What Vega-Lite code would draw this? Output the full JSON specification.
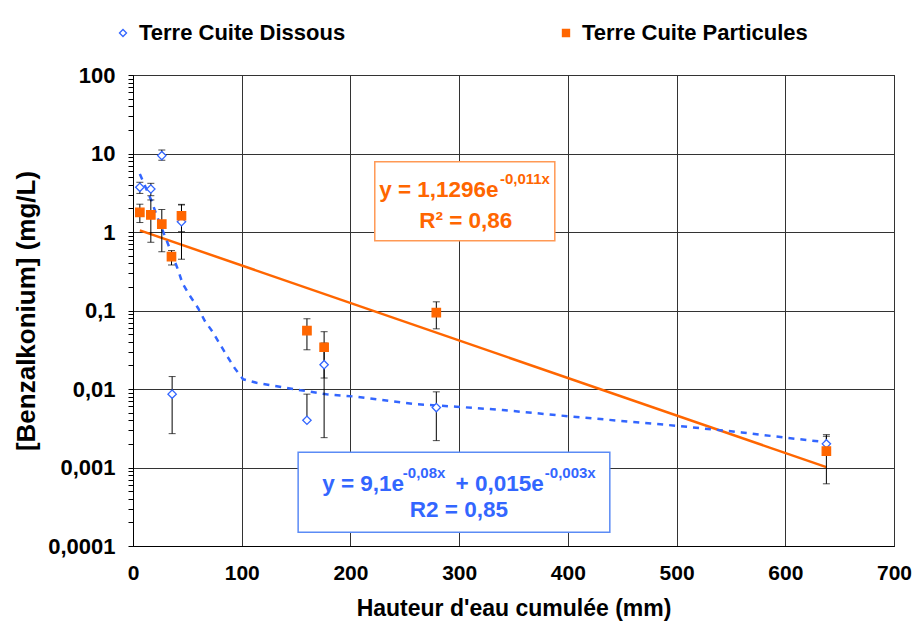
{
  "$schema": "https://vega.github.io/schema/vega-lite/v6.json",
  "width": 761,
  "height": 471,
  "autosize": {"type": "none"},
  "padding": {"left": 133, "top": 75, "right": 21, "bottom": 98},
  "background": "white",
  "config": {
    "font": "Liberation Sans",
    "view": {"stroke": "#000", "strokeWidth": 1},
    "axis": {"labelFont": "Liberation Sans", "labelFontWeight": "bold", "labelColor": "#000", "titleFont": "Liberation Sans", "titleFontWeight": "bold", "titleColor": "#000", "domainColor": "#000", "tickColor": "#000", "gridColor": "#333", "gridWidth": 1, "gridOpacity": 1},
    "legend": {"labelFont": "Liberation Sans", "labelFontSize": 22, "labelFontWeight": "bold", "labelColor": "#000", "symbolSize": 50, "symbolStrokeWidth": 1.3, "columnPadding": 209, "labelOffset": 5, "padding": 0, "labelLimit": 400}
  },
  "datasets": {
    "pts": [
      {"serie": "Terre Cuite Dissous", "x": 6.3, "y": 3.71, "lo": 3.1, "hi": 4.3},
      {"serie": "Terre Cuite Dissous", "x": 16.4, "y": 3.53, "lo": 2.9, "hi": 4.17},
      {"serie": "Terre Cuite Dissous", "x": 26.5, "y": 9.4, "lo": 8.2, "hi": 11.1},
      {"serie": "Terre Cuite Dissous", "x": 36, "y": 0.0086, "lo": 0.0027, "hi": 0.0144},
      {"serie": "Terre Cuite Dissous", "x": 44.6, "y": 1.35, "lo": 0.45, "hi": 2.25},
      {"serie": "Terre Cuite Dissous", "x": 160, "y": 0.004, "lo": 0.004, "hi": 0.0086},
      {"serie": "Terre Cuite Dissous", "x": 175.8, "y": 0.0204, "lo": 0.0024, "hi": 0.0385},
      {"serie": "Terre Cuite Dissous", "x": 279, "y": 0.0058, "lo": 0.0022, "hi": 0.0092},
      {"serie": "Terre Cuite Dissous", "x": 637.8, "y": 0.002, "lo": 0.0015, "hi": 0.0025},
      {"serie": "Terre Cuite Particules", "x": 6.3, "y": 1.78, "lo": 1.32, "hi": 2.26},
      {"serie": "Terre Cuite Particules", "x": 16.4, "y": 1.65, "lo": 0.74, "hi": 2.56},
      {"serie": "Terre Cuite Particules", "x": 26.5, "y": 1.26, "lo": 0.56, "hi": 1.93},
      {"serie": "Terre Cuite Particules", "x": 35.4, "y": 0.485, "lo": 0.38, "hi": 0.58},
      {"serie": "Terre Cuite Particules", "x": 44.6, "y": 1.61, "lo": 1.01, "hi": 2.21},
      {"serie": "Terre Cuite Particules", "x": 160, "y": 0.0553, "lo": 0.0316, "hi": 0.0785},
      {"serie": "Terre Cuite Particules", "x": 175.8, "y": 0.034, "lo": 0.0138, "hi": 0.0537},
      {"serie": "Terre Cuite Particules", "x": 279, "y": 0.0938, "lo": 0.0584, "hi": 0.129},
      {"serie": "Terre Cuite Particules", "x": 637.8, "y": 0.00162, "lo": 0.00062, "hi": 0.00262}
    ],
    "expfit": [
      {"x": 6.3, "y": 1.05},
      {"x": 637.8, "y": 0.00101}
    ],
    "biexp": [
      {"x": 6.3, "y": 5.5},
      {"x": 17, "y": 2.5},
      {"x": 21.6, "y": 1.65},
      {"x": 31.4, "y": 0.75},
      {"x": 41.5, "y": 0.328},
      {"x": 45.5, "y": 0.222},
      {"x": 52.3, "y": 0.154},
      {"x": 59.9, "y": 0.107},
      {"x": 66, "y": 0.074},
      {"x": 73.1, "y": 0.0537},
      {"x": 79.9, "y": 0.0374},
      {"x": 86.9, "y": 0.0258},
      {"x": 93.7, "y": 0.0183},
      {"x": 101.3, "y": 0.0133},
      {"x": 113.6, "y": 0.012},
      {"x": 139.7, "y": 0.0104},
      {"x": 178, "y": 0.00855},
      {"x": 205.6, "y": 0.00798},
      {"x": 257.7, "y": 0.00644},
      {"x": 297.6, "y": 0.00595},
      {"x": 340, "y": 0.0054},
      {"x": 400, "y": 0.0045},
      {"x": 500, "y": 0.0034},
      {"x": 560, "y": 0.0028},
      {"x": 600, "y": 0.0024},
      {"x": 637.8, "y": 0.0021}
    ]
  },
  "layer": [
    {
      "data": {"name": "expfit"},
      "mark": {"type": "line", "color": "#FF6600", "strokeWidth": 2.5},
      "encoding": {
        "x": {"field": "x", "type": "quantitative", "title": "Hauteur d'eau cumulée (mm)", "scale": {"domain": [0, 700], "nice": false, "zero": false},
          "axis": {"titleFontSize": 23, "titlePadding": 14, "labelFontSize": 21, "labelPadding": 16, "ticks": false, "tickSize": 0, "values": [0, 100, 200, 300, 400, 500, 600, 700], "labelFlush": false, "grid": true, "domainColor": "#000"}},
        "y": {"field": "y", "type": "quantitative", "title": "[Benzalkonium] (mg/L)", "scale": {"type": "log", "domain": [0.0001, 100], "nice": false},
          "axis": {"titleFontSize": 26, "titlePadding": 8, "labelFontSize": 22, "labelPadding": 13, "tickSize": 5, "labelOverlap": false, "labelFlush": false,
            "values": [0.0001, 0.0002, 0.0003, 0.0004, 0.0005, 0.0006, 0.0007, 0.0008, 0.0009, 0.001, 0.002, 0.003, 0.004, 0.005, 0.006, 0.007, 0.008, 0.009, 0.01, 0.02, 0.03, 0.04, 0.05, 0.06, 0.07, 0.08, 0.09, 0.1, 0.2, 0.3, 0.4, 0.5, 0.6, 0.7, 0.8, 0.9, 1, 2, 3, 4, 5, 6, 7, 8, 9, 10, 20, 30, 40, 50, 60, 70, 80, 90, 100],
            "labelExpr": "indexof(['0.0001','0.001','0.01','0.1','1','10','100'], toString(datum.value)) >= 0 ? replace(toString(datum.value), '.', ',') : ''",
            "gridOpacity": {"condition": {"test": "indexof(['0.0001','0.001','0.01','0.1','1','10','100'], toString(datum.value)) >= 0", "value": 1}, "value": 0},
            "grid": true}}
      }
    },
    {
      "data": {"name": "biexp"},
      "mark": {"type": "line", "color": "#3366FF", "strokeWidth": 2.5, "strokeDash": [6, 6]},
      "encoding": {
        "x": {"field": "x", "type": "quantitative", "title": "Hauteur d'eau cumulée (mm)"},
        "y": {"field": "y", "type": "quantitative", "title": "[Benzalkonium] (mg/L)"}
      }
    },
    {
      "data": {"values": [{"x": 222.4, "x2": 388, "y": 7.87, "y2": 0.775}]},
      "mark": {"type": "rect", "fill": "white", "stroke": "#FF9955", "strokeWidth": 1.5},
      "encoding": {
        "x": {"field": "x", "type": "quantitative", "title": "Hauteur d'eau cumulée (mm)"},
        "x2": {"field": "x2"},
        "y": {"field": "y", "type": "quantitative", "title": "[Benzalkonium] (mg/L)"},
        "y2": {"field": "y2"}
      }
    },
    {
      "data": {"values": [{"x": 151.9, "x2": 438.6, "y": 0.00156, "y2": 0.00015}]},
      "mark": {"type": "rect", "fill": "white", "stroke": "#5B8BF5", "strokeWidth": 1.5},
      "encoding": {
        "x": {"field": "x", "type": "quantitative", "title": "Hauteur d'eau cumulée (mm)"},
        "x2": {"field": "x2"},
        "y": {"field": "y", "type": "quantitative", "title": "[Benzalkonium] (mg/L)"},
        "y2": {"field": "y2"}
      }
    },
    {
      "data": {"name": "pts"},
      "mark": {"type": "errorbar", "color": "#000", "thickness": 1, "ticks": {"size": 7, "color": "#000", "thickness": 1}},
      "encoding": {
        "x": {"field": "x", "type": "quantitative", "title": "Hauteur d'eau cumulée (mm)"},
        "y": {"field": "lo", "type": "quantitative", "title": "[Benzalkonium] (mg/L)"},
        "y2": {"field": "hi"}
      }
    },
    {
      "data": {"name": "pts"},
      "mark": {"type": "point", "filled": true, "strokeWidth": 1.3, "opacity": 1, "size": 70},
      "encoding": {
        "x": {"field": "x", "type": "quantitative", "title": "Hauteur d'eau cumulée (mm)"},
        "y": {"field": "y", "type": "quantitative", "title": "[Benzalkonium] (mg/L)"},
        "shape": {"field": "serie", "type": "nominal", "scale": {"domain": ["Terre Cuite Dissous", "Terre Cuite Particules"], "range": ["diamond", "square"]},
          "legend": {"title": null, "orient": "none", "legendX": -21, "legendY": -53, "direction": "horizontal"}},
        "fill": {"field": "serie", "type": "nominal", "scale": {"domain": ["Terre Cuite Dissous", "Terre Cuite Particules"], "range": ["#FFFFFF", "#FF6600"]},
          "legend": {"title": null, "orient": "none", "legendX": -21, "legendY": -53, "direction": "horizontal"}},
        "stroke": {"field": "serie", "type": "nominal", "scale": {"domain": ["Terre Cuite Dissous", "Terre Cuite Particules"], "range": ["#3366FF", "#FF6600"]},
          "legend": {"title": null, "orient": "none", "legendX": -21, "legendY": -53, "direction": "horizontal"}}
      }
    },
    {
      "data": {"values": [{"t": "y = 1,1296e", "x": 226.4, "y": 3.43}, {"t": "R² = 0,86", "x": 263.2, "y": 1.39}]},
      "mark": {"type": "text", "align": "left", "baseline": "middle", "font": "Liberation Sans", "fontWeight": "bold", "fontSize": 22.5, "color": "#FF6600"},
      "encoding": {
        "x": {"field": "x", "type": "quantitative", "title": "Hauteur d'eau cumulée (mm)"},
        "y": {"field": "y", "type": "quantitative", "title": "[Benzalkonium] (mg/L)"},
        "text": {"field": "t"}
      }
    },
    {
      "data": {"values": [{"t": "-0,011x", "x": 337.5, "y": 4.73}]},
      "mark": {"type": "text", "align": "left", "baseline": "middle", "font": "Liberation Sans", "fontWeight": "bold", "fontSize": 15, "color": "#FF6600"},
      "encoding": {
        "x": {"field": "x", "type": "quantitative", "title": "Hauteur d'eau cumulée (mm)"},
        "y": {"field": "y", "type": "quantitative", "title": "[Benzalkonium] (mg/L)"},
        "text": {"field": "t"}
      }
    },
    {
      "data": {"values": [{"t": "y = 9,1e", "x": 174, "y": 0.000616}, {"t": "+ 0,015e", "x": 296.7, "y": 0.000616}, {"t": "R2 = 0,85", "x": 254.6, "y": 0.000288}]},
      "mark": {"type": "text", "align": "left", "baseline": "middle", "font": "Liberation Sans", "fontWeight": "bold", "fontSize": 22.5, "color": "#3366FF"},
      "encoding": {
        "x": {"field": "x", "type": "quantitative", "title": "Hauteur d'eau cumulée (mm)"},
        "y": {"field": "y", "type": "quantitative", "title": "[Benzalkonium] (mg/L)"},
        "text": {"field": "t"}
      }
    },
    {
      "data": {"values": [{"t": "-0,08x", "x": 248.2, "y": 0.000851}, {"t": "-0,003x", "x": 378.8, "y": 0.000851}]},
      "mark": {"type": "text", "align": "left", "baseline": "middle", "font": "Liberation Sans", "fontWeight": "bold", "fontSize": 15, "color": "#3366FF"},
      "encoding": {
        "x": {"field": "x", "type": "quantitative", "title": "Hauteur d'eau cumulée (mm)"},
        "y": {"field": "y", "type": "quantitative", "title": "[Benzalkonium] (mg/L)"},
        "text": {"field": "t"}
      }
    }
  ]
}
